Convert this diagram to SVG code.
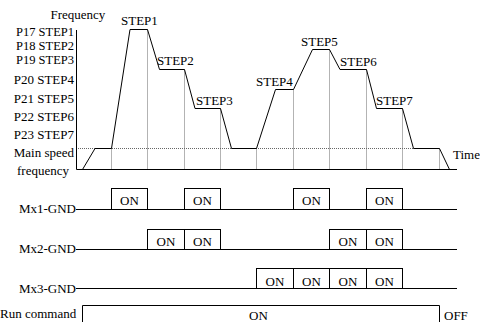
<svg xmlns="http://www.w3.org/2000/svg" width="480" height="322" viewBox="0 0 480 322">
<style>
text{font-family:"Liberation Serif","Times New Roman",serif;font-size:13px;fill:#000}
.ln{fill:none;stroke:#000;stroke-width:1}
.dot{fill:none;stroke:#666;stroke-width:1;stroke-dasharray:1,1}
.box{fill:#fff;stroke:#000;stroke-width:1}
.e{text-anchor:end}
.m{text-anchor:middle}
.t{font-size:12.5px}
</style>
<rect width="480" height="322" fill="#fff"/>
<g id="labels-left">
<text x="50.5" y="19">Frequency</text>
<text class="e t" x="74" y="36">P17 STEP1</text>
<text class="e t" x="74" y="50.2">P18 STEP2</text>
<text class="e t" x="74" y="64.4">P19 STEP3</text>
<text class="e" x="74" y="83.5">P20 STEP4</text>
<text class="e" x="74" y="103">P21 STEP5</text>
<text class="e" x="74" y="121">P22 STEP6</text>
<text class="e" x="74" y="139">P23 STEP7</text>
<text class="e" x="74" y="157">Main speed</text>
<text class="m" x="43" y="175">frequency</text>
</g>
<g id="grid">
<path class="dot" d="M76,148.5H439.5"/>
<path class="dot" d="M111.5,148.5V169M147.5,29.5V169M184.5,69.5V169M220.5,108.5V169M256.5,148.5V169M293.5,89.5V169M329.5,49.5V169M366.5,69.5V169M402.5,108.5V169M439.5,148.5V169"/>
</g>
<g id="axes">
<path class="ln" d="M76.5,30V169.5H457"/>
<text x="453" y="159">Time</text>
</g>
<g id="connectors">
<path class="ln" d="M82.5,169.5L95,148.5H111.5L130,29.5H147.5L159.5,69.5H184.5L195,108.5H220.5L231.5,148.5H256.5L275.5,89.5H293.5L312.5,49.5H329.5L340,69.5H366.5L376.5,108.5H402.5L413.5,148.5H439.5L449.5,169.5"/>
</g>
<g id="step-labels">
<text x="121" y="25">STEP1</text>
<text x="157" y="65">STEP2</text>
<text x="196" y="104.5">STEP3</text>
<text x="256" y="85.5">STEP4</text>
<text x="301" y="45.5">STEP5</text>
<text x="340" y="65.5">STEP6</text>
<text x="376" y="105">STEP7</text>
</g>
<g id="mx1">
<text class="e" x="76" y="213">Mx1-GND</text>
<path class="ln" d="M76,209.5H457"/>
<rect class="box" x="111.5" y="188.5" width="36" height="21"/>
<rect class="box" x="184.5" y="188.5" width="36" height="21"/>
<rect class="box" x="293.5" y="188.5" width="36" height="21"/>
<rect class="box" x="366.5" y="188.5" width="36" height="21"/>
<text class="m" x="129.5" y="205">ON</text>
<text class="m" x="202.5" y="205">ON</text>
<text class="m" x="311.5" y="205">ON</text>
<text class="m" x="384.5" y="205">ON</text>
</g>
<g id="mx2">
<text class="e" x="76" y="253">Mx2-GND</text>
<path class="ln" d="M76,249.5H457"/>
<rect class="box" x="147.5" y="229.5" width="37" height="20"/>
<rect class="box" x="184.5" y="229.5" width="36" height="20"/>
<rect class="box" x="329.5" y="229.5" width="37" height="20"/>
<rect class="box" x="366.5" y="229.5" width="36" height="20"/>
<text class="m" x="166" y="245.5">ON</text>
<text class="m" x="202.5" y="245.5">ON</text>
<text class="m" x="348" y="245.5">ON</text>
<text class="m" x="384.5" y="245.5">ON</text>
</g>
<g id="mx3">
<text class="e" x="76" y="293">Mx3-GND</text>
<path class="ln" d="M76,288.5H457"/>
<rect class="box" x="256.5" y="268.5" width="37" height="20"/>
<rect class="box" x="293.5" y="268.5" width="36" height="20"/>
<rect class="box" x="329.5" y="268.5" width="37" height="20"/>
<rect class="box" x="366.5" y="268.5" width="36" height="20"/>
<text class="m" x="275" y="285.5">ON</text>
<text class="m" x="311.5" y="285.5">ON</text>
<text class="m" x="348" y="285.5">ON</text>
<text class="m" x="384.5" y="285.5">ON</text>
</g>
<g id="run">
<text x="0" y="318">Run command</text>
<path class="ln" d="M82.5,323V305.5H439.5V323"/>
<text x="249" y="320">ON</text>
<text x="444" y="320">OFF</text>
</g>
</svg>
